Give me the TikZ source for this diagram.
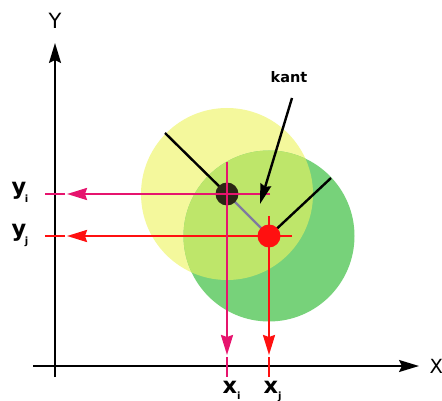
\documentclass[tikz,border=0pt]{standalone}
\usepackage{fontspec}
\setmainfont{DejaVu Sans}
\usetikzlibrary{arrows.meta}
\definecolor{yel}{HTML}{F4F89C}
\definecolor{grn}{HTML}{77D27A}
\definecolor{ovl}{HTML}{BEE66A}
\definecolor{mag}{HTML}{E6146E}
\definecolor{rd}{HTML}{FF1010}
\definecolor{dk}{HTML}{2B2615}
\definecolor{gline}{HTML}{7F7AA0}
\begin{document}
\begin{tikzpicture}[x=1pt,y=-1pt,
  axis/.style={line width=1.9pt,-{Stealth[length=20pt,width=12pt,inset=3pt]}},
  proj/.style={line width=2.2pt,-{Stealth[length=20pt,width=12pt,inset=2pt]}},
  stub/.style={line width=2.2pt},
  blk/.style={line width=2.4pt,black},
  dot/.style={circle,inner sep=0pt,minimum size=23pt},
  big/.style={inner sep=0pt,anchor=base west,font=\fontsize{21}{21}\selectfont},
  lab/.style={inner sep=0pt,anchor=base west,font=\fontsize{22.5}{22.5}\selectfont\bfseries}]
\useasboundingbox (0,0) rectangle (442,401);
% circles
\fill[yel] (227,194) circle[radius=86];
\fill[grn] (269,236) circle[radius=85.5];
\begin{scope}
  \clip (227,194) circle[radius=86];
  \fill[ovl] (269,236) circle[radius=85.5];
\end{scope}
% axes
\coordinate (ys) at (55,377);
\coordinate (ye) at (55,43);
\coordinate (xs) at (33,366);
\coordinate (xe) at (419,366);
\draw[axis] (ys) -- (ye);
\draw[axis] (xs) -- (xe);
\node[big] (Y) at (48.5,29) {Y};
\node[big,font=\fontsize{19.5}{19.5}\selectfont] (X) at (429.5,373) {X};
% nodes (dots)
\node[dot] (pi) at (227,194) {};
\node[dot] (pj) at (269,236) {};
% black lines
\coordinate (bi) at (165,133);
\coordinate (bj) at (331,178);
\draw[blk] (bi) -- (pi.center);
\draw[blk] (bj) -- (pj.center);
\draw[gline,line width=2.2pt] (pi.center) -- (pj.center);
\fill[dk] (pi) circle[radius=11.5];
\fill[rd] (pj) circle[radius=11.5];
% projections
\coordinate (hiR) at (270,194);
\coordinate (hiT) at (67,194);
\coordinate (hiS) at (65,194);
\coordinate (hiL) at (45,194);
\draw[mag,proj] (hiR) -- (hiT);
\draw[mag,stub] (hiS) -- (hiL);
\coordinate (hjR) at (292,236);
\coordinate (hjT) at (67,236);
\coordinate (hjS) at (65,236);
\coordinate (hjL) at (45,236);
\draw[rd,proj] (hjR) -- (hjT);
\draw[rd,stub] (hjS) -- (hjL);
\coordinate (viT) at (227,162);
\coordinate (viA) at (227,355);
\coordinate (viS) at (227,357);
\coordinate (viB) at (227,377);
\draw[mag,proj] (viT) -- (viA);
\draw[mag,stub] (viS) -- (viB);
\coordinate (vjT) at (269,216);
\coordinate (vjA) at (269,355);
\coordinate (vjS) at (269,357);
\coordinate (vjB) at (269,377);
\draw[rd,proj] (vjT) -- (vjA);
\draw[rd,stub] (vjS) -- (vjB);
% kant
\node[inner sep=0pt,anchor=base west,font=\fontsize{14.5}{14.5}\selectfont\bfseries] (kant) at (270.5,83) {kant};
\coordinate (ks) at (292,98);
\coordinate (kt) at (260,204);
\draw[blk,-{Stealth[length=20pt,width=11pt,inset=2pt]}] (ks) -- (kt);
% labels
\node[lab] (yi) at (11.5,194.5) {y\kern-1.5pt\raisebox{-8pt}{\fontsize{10}{10}\selectfont i}};
\node[lab] (yj) at (11.5,236.5) {y\kern-1.5pt\raisebox{-8pt}{\fontsize{10}{10}\selectfont j}};
\node[lab] (xi) at (222.5,393.5) {x\kern0pt\raisebox{-5.5pt}{\fontsize{10}{10}\selectfont i}};
\node[lab] (xj) at (263.5,393.5) {x\kern0pt\raisebox{-5.5pt}{\fontsize{10}{10}\selectfont j}};
\end{tikzpicture}
\end{document}
